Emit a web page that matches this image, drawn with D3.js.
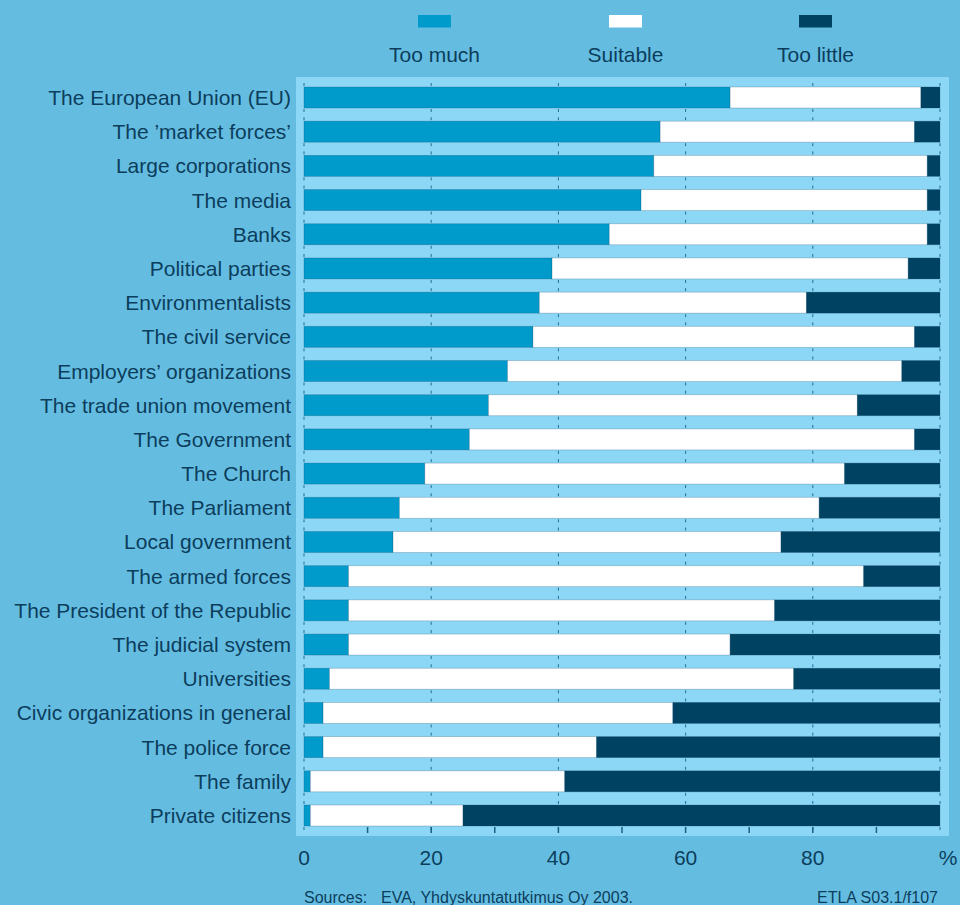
<!DOCTYPE html>
<html>
<head>
<meta charset="utf-8">
<script src="https://cdn.jsdelivr.net/npm/d3@7"></script>
<style>
  html, body { margin: 0; padding: 0; background: #64bde1; }
  svg { display: block; font-family: "Liberation Sans", Arial, sans-serif; }
</style>
</head>
<body>
<svg id="chart" width="960" height="905"></svg>
<script>
// ==================== DATA ====================
const categories = [
  'The European Union (EU)', 'The \u2019market forces\u2019', 'Large corporations', 'The media',
  'Banks', 'Political parties', 'Environmentalists', 'The civil service',
  'Employers\u2019 organizations', 'The trade union movement', 'The Government', 'The Church',
  'The Parliament', 'Local government', 'The armed forces', 'The President of the Republic',
  'The judicial system', 'Universities', 'Civic organizations in general', 'The police force',
  'The family', 'Private citizens'
];
const tooMuch   = [67, 56, 55, 53, 48, 39, 37, 36, 32, 29, 26, 19, 15, 14, 7, 7, 7, 4, 3, 3, 1, 1];
const suitable  = [30, 40, 43, 45, 50, 56, 42, 60, 62, 58, 70, 66, 66, 61, 81, 67, 60, 73, 55, 43, 40, 24];
const tooLittle = [3, 4, 2, 2, 2, 5, 21, 4, 6, 13, 4, 15, 19, 25, 12, 26, 33, 23, 42, 54, 59, 75];
const seriesNames = ['Too much', 'Suitable', 'Too little'];
const xTicks = [0, 20, 40, 60, 80];

const colors = { 'Too much': '#009bcb', 'Suitable': '#ffffff', 'Too little': '#004261' };
const textColor = '#0c3d5c';
const fontSize = '21px';

const svg = d3.select('#chart');

// panel
svg.append('rect')
  .attr('x', 296).attr('y', 77).attr('width', 653).attr('height', 759)
  .attr('fill', '#8dd7f6');

const x = d3.scaleLinear().domain([0, 100]).range([304, 940]);
const y = d3.scaleBand().domain(categories).range([80.4, 832.6])
  .paddingInner(0.386).paddingOuter(0.193);
const bw = y.bandwidth();

// stacked data
const rows = categories.map((c, i) => ({
  cat: c, 'Too much': tooMuch[i], 'Suitable': suitable[i], 'Too little': tooLittle[i]
}));
const stack = d3.stack().keys(seriesNames)(rows);

// short grid marks at bar edges
const gridVals = [0, 20, 40, 60, 80, 100];
const gm = svg.append('g').attr('stroke', '#1f6f96').attr('stroke-width', 1);
categories.forEach((c) => {
  gridVals.forEach((v) => {
    gm.append('line').attr('x1', x(v)).attr('x2', x(v))
      .attr('y1', y(c) - 4).attr('y2', y(c) - 1);
    gm.append('line').attr('x1', x(v)).attr('x2', x(v))
      .attr('y1', y(c) + bw + 1).attr('y2', y(c) + bw + 4);
  });
});

// bars
svg.append('g')
  .selectAll('g')
  .data(stack)
  .join('g')
  .attr('fill', (d) => colors[d.key])
  .selectAll('rect')
  .data((d) => d)
  .join('rect')
  .attr('x', (d) => x(d[0]))
  .attr('y', (d) => y(d.data.cat))
  .attr('width', (d) => x(d[1]) - x(d[0]))
  .attr('height', bw)
  .attr('stroke', 'rgba(20,70,100,0.3)')
  .attr('stroke-width', 0.8);

// category labels
svg.append('g')
  .selectAll('text')
  .data(categories)
  .join('text')
  .attr('x', 291)
  .attr('y', (d) => y(d) + bw / 2)
  .attr('text-anchor', 'end')
  .attr('dominant-baseline', 'central')
  .attr('font-size', fontSize)
  .attr('fill', textColor)
  .text((d) => d);

// bottom axis ticks every 10
const axisY = 827;
svg.append('g')
  .selectAll('line')
  .data(d3.range(10, 100, 10))
  .join('line')
  .attr('x1', (d) => x(d)).attr('x2', (d) => x(d))
  .attr('y1', axisY).attr('y2', axisY + 6)
  .attr('stroke', '#1a5f82').attr('stroke-width', 1.5);

svg.append('g')
  .selectAll('text')
  .data(xTicks)
  .join('text')
  .attr('x', (d) => x(d))
  .attr('y', 865)
  .attr('text-anchor', 'middle')
  .attr('font-size', fontSize)
  .attr('fill', textColor)
  .text((d) => d);

svg.append('text')
  .attr('x', x(100) + 8).attr('y', 865)
  .attr('text-anchor', 'middle')
  .attr('font-size', fontSize)
  .attr('fill', textColor)
  .text('%');

// legend
const legendX = [434.5, 625.5, 815.5];
seriesNames.forEach((s, i) => {
  svg.append('rect')
    .attr('x', legendX[i] - 16.5).attr('y', 15)
    .attr('width', 33).attr('height', 12.5)
    .attr('fill', colors[s]);
  svg.append('text')
    .attr('x', legendX[i]).attr('y', 62)
    .attr('text-anchor', 'middle')
    .attr('font-size', fontSize)
    .attr('fill', textColor)
    .text(s);
});

// footer
svg.append('text')
  .attr('x', 304).attr('y', 903)
  .attr('font-size', '16px')
  .attr('fill', textColor)
  .text('Sources:');
svg.append('text')
  .attr('x', 381).attr('y', 903)
  .attr('font-size', '16px')
  .attr('fill', textColor)
  .text('EVA, Yhdyskuntatutkimus Oy 2003.');
svg.append('text')
  .attr('x', 938).attr('y', 903)
  .attr('text-anchor', 'end')
  .attr('font-size', '16px')
  .attr('fill', textColor)
  .text('ETLA S03.1/f107');
</script>
</body>
</html>
